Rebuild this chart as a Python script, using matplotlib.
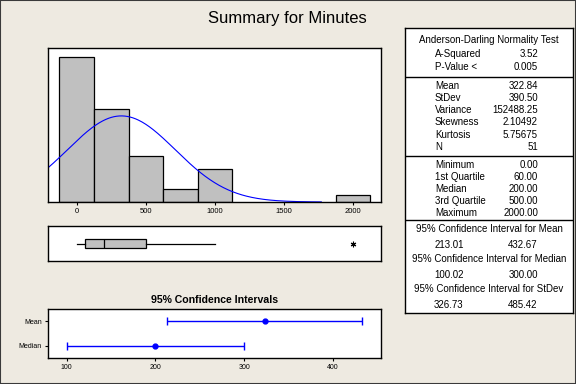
import numpy as np
import matplotlib
matplotlib.use("Agg")
import matplotlib.pyplot as plt
from matplotlib.patches import Rectangle

plt.rcParams["font.family"] = ["Liberation Sans", "DejaVu Sans"]

# ---- data -------------------------------------------------------------
bin_centers = [0, 250, 500, 750, 1000, 2000]
bin_counts  = [22, 14, 7, 2, 5, 1]
bin_width   = 250

n_obs   = 51
mean    = 322.84
stdev   = 390.50

box_stats = dict(whislo=0, q1=60, med=200, q3=500, whishi=1000, fliers=[2000])

ci_labels = ["Mean", "Median"]
ci_center = [322.84, 200.00]
ci_low    = [213.01, 100.02]
ci_high   = [432.67, 300.00]

ad_rows   = [("A-Squared", "3.52"), ("P-Value <", "0.005")]
mom_rows  = [("Mean", "322.84"), ("StDev", "390.50"), ("Variance", "152488.25"),
             ("Skewness", "2.10492"), ("Kurtosis", "5.75675"), ("N", "51")]
quan_rows = [("Minimum", "0.00"), ("1st Quartile", "60.00"), ("Median", "200.00"),
             ("3rd Quartile", "500.00"), ("Maximum", "2000.00")]
ci_rows   = [("95% Confidence Interval for Mean", "213.01", "432.67"),
             ("95% Confidence Interval for Median", "100.02", "300.00"),
             ("95% Confidence Interval for StDev", "326.73", "485.42")]

BG    = "#EEEAE1"
GRAY  = "#C0C0C0"
BLUE  = "#0000FF"
W, H  = 576, 384


def fig_rect(left, top, right, bottom):
    """pixel box -> figure fraction [l, b, w, h]"""
    return [left / W, 1 - bottom / H, (right - left) / W, (bottom - top) / H]


fig = plt.figure(figsize=(5.76, 3.84), dpi=100, facecolor=BG)
fig.patches.append(Rectangle((0, 0), 1, 1, transform=fig.transFigure,
                             fill=False, edgecolor="#3a3a3a", linewidth=1.5))
fig.text(287 / W, 1 - 18 / H, "Summary for Minutes", ha="center", va="center",
         fontsize=12)

xlim_main = (-208, 2202)

# ---- histogram + fitted normal ---------------------------------------
ax_h = fig.add_axes(fig_rect(48, 48, 381, 202))
ax_h.bar(bin_centers, bin_counts, width=bin_width, color=GRAY,
         edgecolor="black", linewidth=0.9)
xs = np.linspace(xlim_main[0], 1770, 300)
pdf = np.exp(-0.5 * ((xs - mean) / stdev) ** 2) / (stdev * np.sqrt(2 * np.pi))
ax_h.plot(xs, pdf * n_obs * bin_width, color=BLUE, linewidth=0.8)
ax_h.set_xlim(*xlim_main)
ax_h.set_ylim(0, 23.3)
ax_h.set_yticks([])
ax_h.set_xticks([0, 500, 1000, 1500, 2000])
ax_h.tick_params(axis="x", labelsize=5.5, length=2.5, width=0.8, pad=2)

# ---- boxplot ---------------------------------------------------------
ax_b = fig.add_axes(fig_rect(48, 226, 381, 261))
ax_b.bxp([box_stats], positions=[1], vert=False, widths=0.27, showcaps=False,
         patch_artist=True,
         boxprops=dict(facecolor=GRAY, edgecolor="black", linewidth=0.9),
         medianprops=dict(color="black", linewidth=0.9),
         whiskerprops=dict(color="black", linewidth=0.9),
         flierprops=dict(marker=(6, 2, 0), markersize=4, markeredgecolor="black",
                         markeredgewidth=0.8))
ax_b.set_xlim(*xlim_main)
ax_b.set_ylim(0.5, 1.5)
ax_b.set_xticks([])
ax_b.set_yticks([])

# ---- confidence intervals --------------------------------------------
ax_c = fig.add_axes(fig_rect(48, 309, 381, 358))
ypos = [2, 1]
xerr = [np.subtract(ci_center, ci_low), np.subtract(ci_high, ci_center)]
ax_c.errorbar(ci_center, ypos, xerr=xerr, fmt="o", color=BLUE, ms=3.5,
              elinewidth=1, capsize=2.9, capthick=1)
ax_c.set_xlim(79, 454)
ax_c.set_ylim(0.5, 2.5)
ax_c.set_yticks(ypos)
ax_c.set_yticklabels(ci_labels)
ax_c.set_xticks([100, 200, 300, 400])
ax_c.tick_params(labelsize=5, length=2.5, width=0.8, pad=2)
ax_c.set_title("95% Confidence Intervals", fontsize=7.6, fontweight="bold", pad=4)

for ax in (ax_h, ax_b, ax_c):
    for s in ax.spines.values():
        s.set_linewidth(1.0)

# ---- summary table ---------------------------------------------------
ax_t = fig.add_axes(fig_rect(405, 28, 573, 313))
ax_t.set_xlim(405, 573)
ax_t.set_ylim(313, 28)
ax_t.set_xticks([])
ax_t.set_yticks([])
for s in ax_t.spines.values():
    s.set_linewidth(1.0)

fs = 7.0
lab_x, val_x = 435, 538
ax_t.text(489, 40, "Anderson-Darling Normality Test", ha="center", va="center",
          fontsize=fs)
y = 54.3
for lab, val in ad_rows:
    ax_t.text(lab_x, y, lab, va="center", fontsize=fs)
    ax_t.text(val_x, y, val, va="center", ha="right", fontsize=fs)
    y += 12.4
ax_t.axhline(76.7, color="black", linewidth=1.0)
y = 85.7
for lab, val in mom_rows:
    ax_t.text(lab_x, y, lab, va="center", fontsize=fs)
    ax_t.text(val_x, y, val, va="center", ha="right", fontsize=fs)
    y += 12.2
ax_t.axhline(155.5, color="black", linewidth=1.0)
y = 164.7
for lab, val in quan_rows:
    ax_t.text(lab_x, y, lab, va="center", fontsize=fs)
    ax_t.text(val_x, y, val, va="center", ha="right", fontsize=fs)
    y += 12.2
ax_t.axhline(220, color="black", linewidth=1.0)
y = 229
for head, lo, hi in ci_rows:
    ax_t.text(489, y, head, ha="center", va="center", fontsize=fs)
    ax_t.text(449, y + 15.5, lo, ha="center", va="center", fontsize=fs)
    ax_t.text(523, y + 15.5, hi, ha="center", va="center", fontsize=fs)
    y += 30

fig.savefig("out.png", dpi=100, facecolor=BG)
